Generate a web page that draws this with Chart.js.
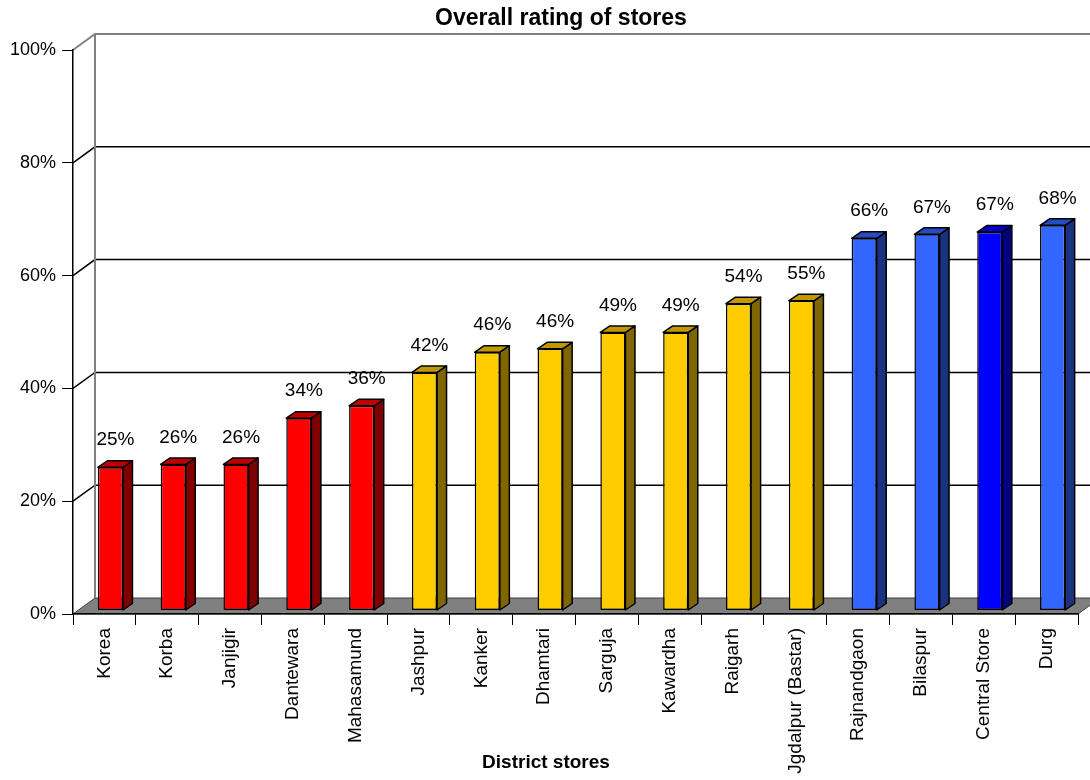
<!DOCTYPE html>
<html>
<head>
<meta charset="utf-8">
<script src="https://cdn.jsdelivr.net/npm/chart.js@4.4.1/dist/chart.umd.min.js"></script>
<style>
  body { margin: 0; background: #fff; }
  #wrap { width: 1090px; height: 780px; }
</style>
</head>
<body>
<div id="wrap"><canvas id="ratingChart" width="1090" height="780"></canvas></div>
<script>
const stores = ["Korea", "Korba", "Janjigir", "Dantewara", "Mahasamund", "Jashpur", "Kanker", "Dhamtari",
  "Sarguja", "Kawardha", "Raigarh", "Jgdalpur (Bastar)", "Rajnandgaon", "Bilaspur", "Central Store", "Durg"];
const rating = [25.4, 25.9, 25.9, 34.1, 36.3, 42.2, 45.8, 46.4, 49.3, 49.3, 54.4, 54.9, 66.0, 66.7, 67.1, 68.3];
const yTicks = [0, 20, 40, 60, 80, 100];
const chartTitle = "Overall rating of stores";
const xTitle = "District stores";

const RED = ["#ff0000", "#800000", "#c00000"];
const YEL = ["#ffcc00", "#806600", "#c09900"];
const BLU = ["#3366ff", "#1a3380", "#264dbf"];
const NAVY = ["#0000ff", "#000080", "#0000c0"];
const barShades = [RED, RED, RED, RED, RED, YEL, YEL, YEL, YEL, YEL, YEL, YEL, BLU, BLU, NAVY, BLU];

const FONT = "'Liberation Sans', Arial, sans-serif";
const WALL = { x: 22, y: -16 };   // depth of the whole plot
const BAR_SHIFT = { x: 6, y: -3.5 };
const BAR_DEPTH = { x: 9.5, y: -6.5 };

// back wall, floor, bar sides/tops and the texts placed like the original
const frame3d = {
  id: "frame3d",
  beforeDraw(chart) {
    const { ctx, chartArea: a, scales } = chart;
    const y = scales.y;
    const y0 = y.getPixelForValue(0);
    ctx.save();
    // floor
    ctx.beginPath();
    ctx.moveTo(a.left, y0);
    ctx.lineTo(a.right, y0);
    ctx.lineTo(a.right + WALL.x, y0 + WALL.y);
    ctx.lineTo(a.left + WALL.x, y0 + WALL.y);
    ctx.closePath();
    ctx.fillStyle = "#808080";
    ctx.fill();
    ctx.lineWidth = 1;
    ctx.strokeStyle = "#404040";
    ctx.stroke();
    // gridlines on the back wall
    yTicks.forEach((v) => {
      if (v === 0) return;
      const py = y.getPixelForValue(v);
      ctx.beginPath();
      ctx.moveTo(a.left, py);
      ctx.lineTo(a.left + WALL.x, py + WALL.y);
      ctx.lineTo(chart.width + 40, py + WALL.y);
      ctx.strokeStyle = v === 100 ? "#808080" : "#000";
      ctx.lineWidth = v === 100 ? 2 : 1.5;
      ctx.stroke();
    });
    // back wall left edge
    ctx.beginPath();
    ctx.moveTo(a.left + WALL.x, y.getPixelForValue(100) + WALL.y);
    ctx.lineTo(a.left + WALL.x, y0 + WALL.y);
    ctx.strokeStyle = "#808080";
    ctx.lineWidth = 2;
    ctx.stroke();
    ctx.restore();
  },
  beforeDatasetsDraw(chart) {
    chart.ctx.save();
    chart.ctx.translate(BAR_SHIFT.x, BAR_SHIFT.y);
  },
  afterDatasetsDraw(chart) {
    const ctx = chart.ctx;
    const meta = chart.getDatasetMeta(0);
    ctx.lineWidth = 1.5;
    ctx.strokeStyle = "#000";
    ctx.lineJoin = "round";
    meta.data.forEach((bar, i) => {
      const l = bar.x - bar.width / 2, r = bar.x + bar.width / 2;
      const t = bar.y, b = bar.base;
      const dx = BAR_DEPTH.x, dy = BAR_DEPTH.y;
      // side
      ctx.beginPath();
      ctx.moveTo(r, t);
      ctx.lineTo(r + dx, t + dy);
      ctx.lineTo(r + dx, b + dy);
      ctx.lineTo(r, b);
      ctx.closePath();
      ctx.fillStyle = barShades[i][1];
      ctx.fill();
      ctx.stroke();
      // top
      ctx.beginPath();
      ctx.moveTo(l, t);
      ctx.lineTo(l + dx, t + dy);
      ctx.lineTo(r + dx, t + dy);
      ctx.lineTo(r, t);
      ctx.closePath();
      ctx.fillStyle = barShades[i][2];
      ctx.fill();
      ctx.stroke();
    });
    ctx.restore();

    // value labels
    ctx.save();
    ctx.fillStyle = "#000";
    ctx.font = "19px " + FONT;
    ctx.textAlign = "center";
    ctx.textBaseline = "middle";
    meta.data.forEach((bar, i) => {
      ctx.fillText(Math.round(rating[i]) + "%", bar.x + BAR_SHIFT.x + 5, bar.y + BAR_SHIFT.y - 27);
    });
    // titles, centred on the page like the original
    ctx.font = "bold 19px " + FONT;
    ctx.fillText(xTitle, 546, 763);
    ctx.font = "bold 23px " + FONT;
    ctx.textBaseline = "alphabetic";
    ctx.fillText(chartTitle, 561, 25);
    ctx.restore();
  }
};

new Chart(document.getElementById("ratingChart"), {
  type: "bar",
  data: {
    labels: stores,
    datasets: [{
      label: "Overall rating",
      data: rating,
      backgroundColor: barShades.map((s) => s[0]),
      borderColor: "#000",
      borderWidth: 1.5,
      borderSkipped: false,
      barPercentage: 0.4,
      categoryPercentage: 1
    }]
  },
  options: {
    responsive: false,
    animation: false,
    devicePixelRatio: 1,
    layout: { padding: { left: 0, right: 12, top: 50, bottom: 0 } },
    plugins: {
      legend: { display: false },
      tooltip: { enabled: false },
      title: { display: false }
    },
    scales: {
      x: {
        grid: { drawOnChartArea: false, drawTicks: true, tickLength: 11, color: "#000", offset: true },
        border: { color: "#000", width: 1.5 },
        ticks: {
          color: "#000",
          font: { family: FONT, size: 19 },
          minRotation: 90,
          maxRotation: 90,
          autoSkip: false,
          padding: 3
        },
        afterFit(scale) { scale.height = 166; }
      },
      y: {
        min: 0,
        max: 100,
        grid: { drawOnChartArea: false, drawTicks: true, tickLength: 11, color: "#000" },
        border: { color: "#000", width: 1.5 },
        ticks: {
          stepSize: 20,
          color: "#000",
          padding: 6,
          font: { family: FONT, size: 18 },
          callback: (v) => v + "%"
        },
        afterFit(scale) { scale.width = 73; }
      }
    }
  },
  plugins: [frame3d]
});
</script>
</body>
</html>
